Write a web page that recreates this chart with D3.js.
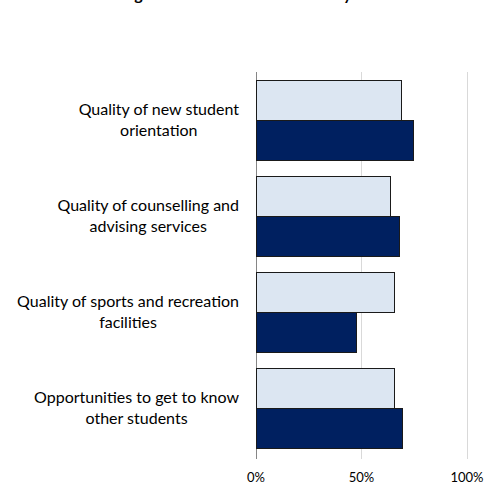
<!DOCTYPE html>
<html><head><meta charset="utf-8">
<script src="https://cdn.jsdelivr.net/npm/d3@7"></script>
<style>body{margin:0;background:#fff}svg{display:block}</style>
</head><body>
<script>
const titleText = "Percentage of students satisfied or very satisfied";
const categories = [
  ["Quality of new student", "orientation"],
  ["Quality of counselling and", "advising services"],
  ["Quality of sports and recreation", "facilities"],
  ["Opportunities to get to know", "other students"]
];
const seriesNames = ["Series A", "Series B"];
const seriesA = [68.9, 63.8, 65.7, 65.5];
const seriesB = [74.7, 68.1, 47.5, 69.2];
const tickValues = [0, 50, 100];
const tickLabels = ["0%", "50%", "100%"];
const colors = ["#DCE6F2", "#002060"];

const W = 486, H = 485;
const svg = d3.select("body").append("svg").attr("width", W).attr("height", H);
const font = "Lato, 'Open Sans', sans-serif";

const keys = categories.map(c => c.join(" "));
const x = d3.scaleLinear().domain([0, 100]).range([256, 467]);
const y = d3.scaleBand().domain(keys).range([72, 457]).paddingInner(0.168).paddingOuter(0.084);
const ySub = d3.scaleBand().domain(seriesNames).range([0, y.bandwidth()]);

// title (mostly above viewport, as in the reference)
svg.append("text").attr("x", 243).attr("y", 0).attr("text-anchor", "middle")
  .attr("font-family", font).attr("font-weight", "bold").attr("font-size", 16)
  .attr("fill", "#000").text(titleText);

// gridlines
svg.append("g").selectAll("line").data(tickValues).join("line")
  .attr("x1", d => x(d)).attr("x2", d => x(d)).attr("y1", 72).attr("y2", 459)
  .attr("stroke", d => d === 0 ? "#868686" : "#D9D9D9").attr("stroke-width", 1)
  .attr("shape-rendering", "crispEdges");

// bars
const rows = keys.map((k, i) => ({k, vals: [seriesA[i], seriesB[i]]}));
const g = svg.append("g").selectAll("g").data(rows).join("g")
  .attr("transform", d => `translate(0,${y(d.k)})`);
g.selectAll("rect").data(d => d.vals.map((v, j) => ({v, s: seriesNames[j], j}))).join("rect")
  .attr("x", x(0)).attr("y", d => ySub(d.s))
  .attr("width", d => x(d.v) - x(0)).attr("height", ySub.bandwidth())
  .attr("fill", d => colors[d.j]).attr("stroke", "#1a1a1a").attr("stroke-width", 1)
  .attr("shape-rendering", "crispEdges");

// x tick labels
svg.append("g").selectAll("text").data(tickValues).join("text")
  .attr("x", d => x(d)).attr("y", 482).attr("text-anchor", "middle")
  .attr("font-family", font).attr("font-size", 13).attr("fill", "#000")
  .text((d, i) => tickLabels[i]);

// category labels
const lab = svg.append("g").attr("font-family", font).attr("font-size", 16).attr("fill", "#000");
categories.forEach((lines, i) => {
  const grp = lab.append("g");
  const ts = lines.map((l, j) => grp.append("text").attr("text-anchor", "middle")
    .attr("y", y(keys[i]) + y.bandwidth() / 2 + (j - (lines.length - 1) / 2) * 21 + 5).text(l));
  const maxW = d3.max(ts, t => t.node().getComputedTextLength());
  ts.forEach(t => t.attr("x", 239 - maxW / 2));
});
</script>
</body></html>
